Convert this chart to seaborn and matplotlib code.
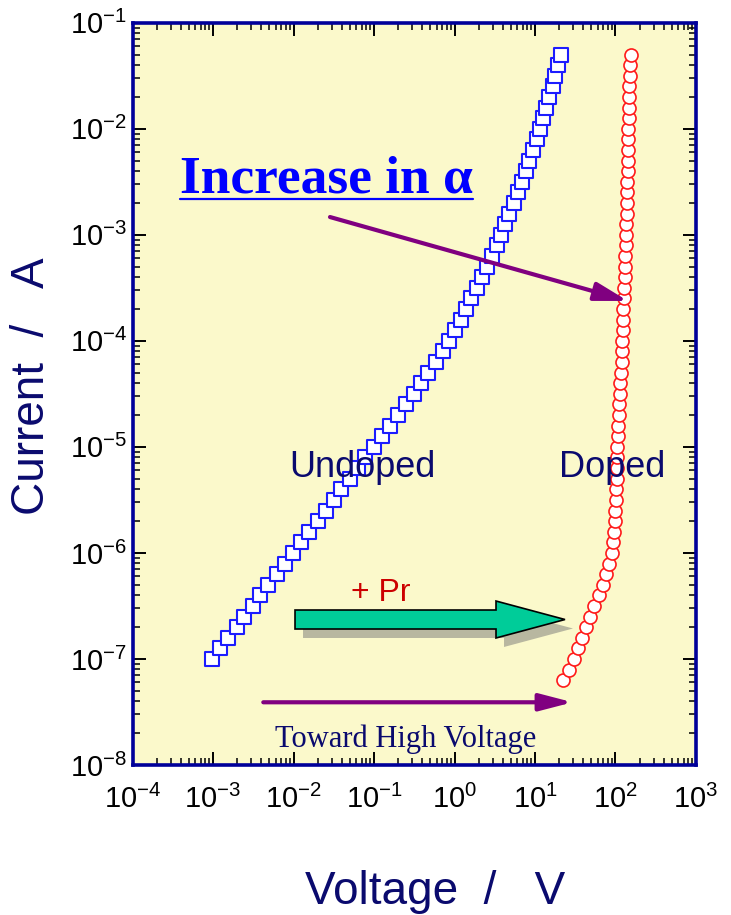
import numpy as np
import pandas as pd
import matplotlib
matplotlib.use("Agg")
import matplotlib.pyplot as plt
import seaborn as sns
from matplotlib.patches import FancyArrowPatch, FancyArrow
from matplotlib.lines import Line2D
from matplotlib.ticker import LogLocator, NullFormatter, LogFormatterSciNotation

# ---------------- data ----------------
undoped_voltage = [
    9.72e-4, 1.22e-3, 1.53e-3, 1.96e-3, 2.46e-3, 3.10e-3, 3.89e-3, 4.88e-3, 6.24e-3, 7.83e-3,
    9.86e-3, 1.24e-2, 1.58e-2, 1.99e-2, 2.50e-2, 3.14e-2, 3.94e-2, 4.97e-2, 6.24e-2, 7.83e-2,
    0.100, 0.126, 0.158, 0.199, 0.250, 0.314, 0.389, 0.475, 0.581, 0.710,
    0.855, 1.01, 1.19, 1.39, 1.60, 1.88, 2.20, 2.53, 2.92, 3.33,
    3.78, 4.28, 4.82, 5.43, 6.10, 6.84, 7.66, 8.49, 9.44, 10.5,
    11.5, 12.7, 13.8, 15.1, 16.6, 17.9, 19.3, 20.8,
]
undoped_current = [
    1.00e-7, 1.26e-7, 1.58e-7, 2.00e-7, 2.51e-7, 3.16e-7, 3.98e-7, 5.01e-7, 6.31e-7, 7.94e-7,
    1.00e-6, 1.26e-6, 1.58e-6, 2.00e-6, 2.51e-6, 3.16e-6, 3.98e-6, 5.01e-6, 6.31e-6, 7.94e-6,
    1.00e-5, 1.26e-5, 1.58e-5, 2.00e-5, 2.51e-5, 3.16e-5, 3.98e-5, 5.01e-5, 6.31e-5, 7.94e-5,
    1.00e-4, 1.26e-4, 1.58e-4, 2.00e-4, 2.51e-4, 3.16e-4, 3.98e-4, 5.01e-4, 6.31e-4, 7.94e-4,
    1.00e-3, 1.26e-3, 1.58e-3, 2.00e-3, 2.51e-3, 3.16e-3, 3.98e-3, 5.01e-3, 6.31e-3, 7.94e-3,
    1.00e-2, 1.26e-2, 1.58e-2, 2.00e-2, 2.51e-2, 3.16e-2, 3.98e-2, 5.01e-2,
]
doped_voltage = [
    22.5, 26.1, 30.1, 34.2, 38.9, 43.6, 48.9, 54.8, 61.5, 69.0,
    77.3, 84.2, 89.9, 93.6, 96.4, 98.6, 100.0, 101.4, 102.3, 103.2,
    103.8, 104.4, 105.6, 106.8, 108.0, 109.6, 111.2, 113.0, 114.8, 117.0,
    119.4, 120.4, 121.4, 122.8, 123.9, 125.0, 126.5, 128.6, 130.0, 131.2,
    132.4, 133.9, 134.9, 136.2, 137.7, 138.5, 139.0, 140.0, 141.0, 141.6,
    142.5, 142.9, 144.2, 145.5, 145.9, 147.2, 148.3, 150.0, 151.4, 154.5,
]
doped_current = [
    6.31e-8, 7.94e-8,
    1.00e-7, 1.26e-7, 1.58e-7, 2.00e-7, 2.51e-7, 3.16e-7, 3.98e-7, 5.01e-7, 6.31e-7, 7.94e-7,
    1.00e-6, 1.26e-6, 1.58e-6, 2.00e-6, 2.51e-6, 3.16e-6, 3.98e-6, 5.01e-6, 6.31e-6, 7.94e-6,
    1.00e-5, 1.26e-5, 1.58e-5, 2.00e-5, 2.51e-5, 3.16e-5, 3.98e-5, 5.01e-5, 6.31e-5, 7.94e-5,
    1.00e-4, 1.26e-4, 1.58e-4, 2.00e-4, 2.51e-4, 3.16e-4, 3.98e-4, 5.01e-4, 6.31e-4, 7.94e-4,
    1.00e-3, 1.26e-3, 1.58e-3, 2.00e-3, 2.51e-3, 3.16e-3, 3.98e-3, 5.01e-3, 6.31e-3, 7.94e-3,
    1.00e-2, 1.26e-2, 1.58e-2, 2.00e-2, 2.51e-2, 3.16e-2, 3.98e-2, 5.01e-2,
]
x_limits = [1e-4, 1e3]
y_limits = [1e-8, 1e-1]
series_labels = ["Undoped", "Doped"]

df_undoped = pd.DataFrame({"Voltage": undoped_voltage, "Current": undoped_current})
df_doped = pd.DataFrame({"Voltage": doped_voltage, "Current": doped_current})

# ---------------- style ----------------
sns.set_style("ticks")
plt.rcParams["font.family"] = ["Liberation Sans", "DejaVu Sans"]
plt.rcParams["mathtext.fontset"] = "custom"
plt.rcParams["mathtext.rm"] = "Liberation Sans"
plt.rcParams["mathtext.it"] = "Liberation Sans:italic"
plt.rcParams["mathtext.bf"] = "Liberation Sans:bold"

NAVY = "#0a0a6e"
BG = "#fbf9cb"

fig = plt.figure(figsize=(7.31, 9.15), dpi=100)
ax = fig.add_axes([0.18126, 0.16393, 0.77086, 0.81126])
ax.set_facecolor(BG)

sns.scatterplot(data=df_undoped, x="Voltage", y="Current", marker="s", s=96,
                color="white", edgecolor="#1c1cff", linewidth=1.5, ax=ax, zorder=3)
sns.scatterplot(data=df_doped, x="Voltage", y="Current", marker="o", s=88,
                color="white", edgecolor="#ff1a1a", linewidth=1.2, ax=ax, zorder=3)

ax.set_xscale("log")
ax.set_yscale("log")
ax.set_xlim(*x_limits)
ax.set_ylim(*y_limits)

for axis in (ax.xaxis, ax.yaxis):
    axis.set_major_locator(LogLocator(base=10, numticks=20))
    axis.set_minor_locator(LogLocator(base=10, subs=np.arange(2, 10), numticks=20))
    axis.set_minor_formatter(NullFormatter())
    axis.set_major_formatter(LogFormatterSciNotation())

ax.tick_params(which="both", direction="in", top=True, right=True, color="black",
               labelcolor="black")
ax.tick_params(which="major", length=9.5, width=1.4, labelsize=21)
ax.tick_params(which="minor", length=5, width=1.1)
ax.tick_params(axis="y", which="major", pad=4)
ax.tick_params(axis="x", which="major", pad=14)

for sp in ax.spines.values():
    sp.set_color("#000099")
    sp.set_linewidth(2.6)
    sp.set_zorder(5)

ax.set_xlabel("Voltage  /   V", fontsize=33, color=NAVY, va="center")
ax.set_ylabel("Current  /   A", fontsize=33, color=NAVY, va="center")
ax.xaxis.set_label_coords(0.537, -0.171)
ax.yaxis.set_label_coords(-0.1775, 0.5106)

# ---------------- annotations ----------------
ax.text(0.4073, 0.388, series_labels[0], transform=ax.transAxes, fontsize=26,
        color=NAVY, ha="center", va="baseline", zorder=4)
ax.text(0.851, 0.388, series_labels[1], transform=ax.transAxes, fontsize=26,
        color=NAVY, ha="center", va="baseline", zorder=4)

title_txt = ax.text(0.0843, 0.771, "Increase in α", transform=ax.transAxes,
                    fontsize=38.5, fontweight="bold", color="#0000ff",
                    family=["Liberation Serif", "DejaVu Serif"],
                    ha="left", va="baseline", zorder=4)

ax.text(0.4401, 0.2213, "+ Pr", transform=ax.transAxes, fontsize=23,
        color="#cc0000", ha="center", va="baseline", zorder=4)

ax.text(0.4853, 0.0238, "Toward High Voltage", transform=ax.transAxes, fontsize=22,
        color=NAVY, family=["Liberation Serif", "DejaVu Serif"],
        ha="center", va="baseline", zorder=4)

# green block arrow with shadow
shadow = FancyArrow(0.2884 + 0.0142, 0.196 - 0.0121, 0.4791, 0.0, width=0.0256,
                    head_width=0.0498, head_length=0.1224, length_includes_head=True,
                    transform=ax.transAxes, facecolor="#b8b7a0", edgecolor="none", zorder=2)
ax.add_patch(shadow)
green = FancyArrow(0.2884, 0.196, 0.4791, 0.0, width=0.0256,
                   head_width=0.0498, head_length=0.1224, length_includes_head=True,
                   transform=ax.transAxes, facecolor="#00cc99", edgecolor="black",
                   linewidth=1.2, zorder=2.5)
ax.add_patch(green)

PURPLE = "#800080"
arr1 = FancyArrowPatch((0.3505, 0.7382), (0.8793, 0.6251), transform=ax.transAxes,
                       arrowstyle="-|>,head_length=1.0,head_width=0.28", mutation_scale=20,
                       color=PURPLE, linewidth=3.0, shrinkA=0, shrinkB=0, zorder=4)
ax.add_patch(arr1)
arr2 = FancyArrowPatch((0.2321, 0.0845), (0.7812, 0.0845), transform=ax.transAxes,
                       arrowstyle="-|>,head_length=1.0,head_width=0.26", mutation_scale=20,
                       color=PURPLE, linewidth=3.0, shrinkA=0, shrinkB=0, zorder=4)
ax.add_patch(arr2)

# underline for the title
fig.canvas.draw()
bb = title_txt.get_window_extent(renderer=fig.canvas.get_renderer())
inv = ax.transAxes.inverted()
(x0, _), (x1, _) = inv.transform([[bb.x0, bb.y0], [bb.x1, bb.y0]])
ax.add_line(Line2D([x0, x1], [0.7619, 0.7619], transform=ax.transAxes,
                   color="#0000ff", linewidth=1.6, zorder=4))

fig.savefig("out.png", dpi=100)
